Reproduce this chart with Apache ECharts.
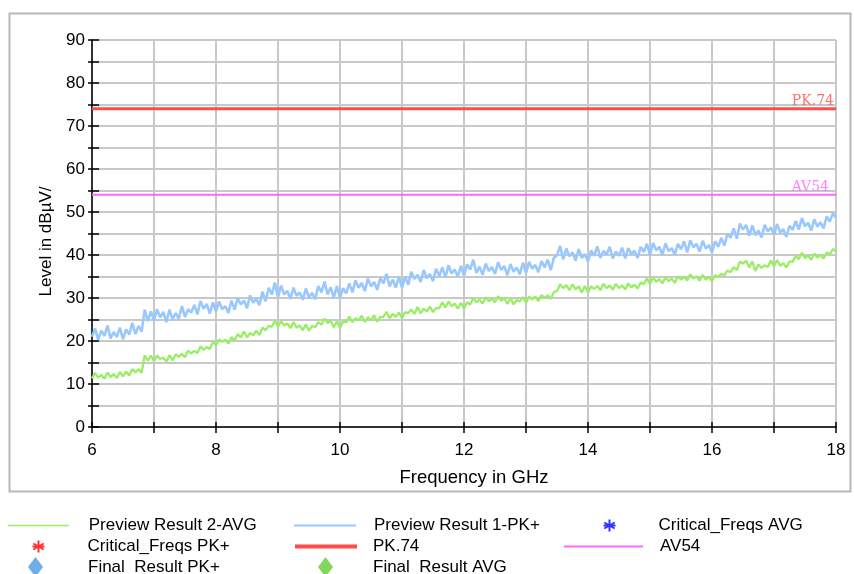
<!DOCTYPE html>
<html>
<head>
<meta charset="utf-8">
<script src="https://cdn.jsdelivr.net/npm/echarts@6/dist/echarts.min.js"></script>
<style>
html,body{margin:0;padding:0;background:#fff;}
#chart{width:854px;height:574px;}
</style>
</head>
<body>
<div id="chart"></div>
<script>
// Frequency grid (GHz): 6.00 .. 18.00 step 0.05
var freqStart = 6, freqStep = 0.05;

// Preview Result 1-PK+ (dBµV)
var pkValues = [
 21.0,22.9,20.3,22.4,21.2,23.6,20.6,22.1,20.9,23.1,20.4,22.7,21.5,24.2,21.6,23.5,22.2,27.3,24.6,26.9,
 24.8,27.4,25.5,26.8,24.4,27.3,25.0,26.5,25.1,28.1,25.6,27.4,26.6,28.4,26.2,29.3,27.5,28.6,26.4,29.0,
 26.9,29.2,27.4,28.1,26.5,29.4,27.3,30.0,28.5,29.4,27.6,30.6,28.9,29.8,28.3,31.5,29.2,32.4,30.8,33.6,
 30.2,32.9,30.8,31.7,29.8,32.4,30.5,31.3,29.6,32.2,30.1,31.2,29.7,32.8,31.3,33.8,30.8,32.5,30.1,32.8,
 30.0,32.3,31.1,33.4,31.3,34.1,32.4,33.5,31.6,34.5,32.7,33.7,31.9,34.7,33.4,35.6,32.7,34.3,32.4,34.9,
 32.4,35.0,33.1,36.1,34.4,35.4,33.7,36.5,34.6,35.6,33.9,36.8,35.1,37.1,34.8,37.6,35.7,36.6,35.0,37.5,
 35.2,37.8,36.6,38.9,35.8,37.3,35.4,38.0,36.3,37.2,35.6,38.3,36.5,37.4,35.3,37.9,36.1,37.1,35.5,38.2,
 35.8,38.4,36.8,37.7,36.0,38.6,37.1,38.9,36.5,39.4,39.9,42.1,39.0,41.5,39.7,40.6,38.7,41.4,39.3,40.2,
 38.5,41.1,39.8,42.0,39.3,41.0,40.1,41.9,39.2,40.8,39.8,41.7,39.2,41.6,40.2,41.0,39.3,41.9,40.7,42.6,
 40.0,42.8,41.1,41.9,40.0,42.7,40.9,41.6,40.1,42.6,41.3,43.2,40.6,43.4,41.8,42.6,40.8,43.3,41.5,42.3,
 40.6,43.2,41.9,44.0,42.2,45.0,44.0,46.2,43.8,47.3,45.9,47.0,44.5,46.9,44.6,45.7,44.1,47.0,45.5,46.4,
 44.7,47.2,45.2,46.0,44.2,46.8,45.8,47.9,45.9,48.6,46.7,47.5,45.7,48.3,46.6,47.6,46.2,49.0,47.8,49.7,48.6
];

// Preview Result 2-AVG (dBµV)
var avgValues = [
 11.3,12.6,11.5,12.1,11.2,12.7,11.6,12.3,11.4,12.8,11.8,12.9,12.0,13.5,12.7,13.4,12.6,16.7,15.4,16.6,
 15.3,16.6,15.8,16.1,15.2,16.7,15.5,16.9,16.3,17.0,16.2,17.8,17.1,17.7,17.2,18.8,17.9,18.6,18.1,19.8,
 19.0,20.4,19.8,20.3,19.4,20.9,20.1,21.6,20.8,22.2,20.8,21.9,21.3,22.4,21.4,23.1,22.5,23.5,23.3,24.7,
 23.3,24.6,23.6,24.1,23.0,24.4,23.1,23.6,22.5,23.9,22.4,23.5,23.2,24.4,23.8,25.2,24.2,24.7,23.2,24.6,
 23.1,24.5,24.3,25.7,24.4,25.3,24.8,25.9,24.4,25.5,24.8,26.0,24.5,25.6,25.6,26.8,25.3,26.3,25.6,26.6,
 25.3,26.7,26.5,27.3,26.3,27.9,26.4,27.5,26.9,28.0,26.7,27.7,27.6,29.0,27.8,29.2,28.1,28.7,27.5,28.9,
 27.5,29.0,28.5,30.0,29.0,29.6,28.7,30.2,29.2,29.9,29.0,30.4,29.4,30.0,28.6,30.0,28.5,29.5,29.2,30.2,
 28.9,30.3,29.7,30.3,29.3,30.7,30.0,30.6,29.8,31.4,31.6,33.2,32.3,33.0,31.8,33.2,32.0,32.7,31.3,32.8,
 31.3,32.7,32.1,32.8,31.8,33.3,32.3,32.9,31.9,33.3,32.3,32.9,32.0,33.4,32.5,33.1,32.2,33.6,33.2,34.5,
 33.3,34.7,33.8,34.4,33.4,34.8,33.9,34.5,33.5,35.0,34.3,34.9,34.1,35.5,34.5,35.1,34.0,35.4,34.3,34.9,
 33.9,35.3,34.9,35.6,35.3,36.4,36.0,37.2,36.5,38.5,38.0,38.7,37.1,38.5,36.3,37.8,37.0,37.6,37.2,38.7,
 37.4,38.8,37.5,38.1,37.1,38.5,38.4,39.8,39.0,40.5,39.3,39.9,38.9,40.3,39.4,40.0,39.2,40.6,40.2,41.4,40.8
];

// Limit lines
var pkLimit = 74;
var avLimit = 54;

// Axis setup values
var xMin = 6, xMax = 18, xTickStep = 1, xLabelStep = 2;
var yMin = 0, yMax = 90, yTickStep = 5, yLabelStep = 10;

// Series names
var names = {
  avg: 'Preview Result 2-AVG',
  pk: 'Preview Result 1-PK+',
  critAvg: 'Critical_Freqs AVG',
  critPk: 'Critical_Freqs PK+',
  pkLim: 'PK.74',
  avLim: 'AV54',
  finPk: 'Final  Result PK+',
  finAvg: 'Final  Result AVG'
};

var colors = {
  avg: '#99ee66', pk: '#99c8ff', pkLim: '#ff4b4b', avLim: '#ff66ff',
  critPk: '#ff0000', critAvg: '#0000ff', finPk: '#4a9ae0', finAvg: '#66cc33'
};

function pairs(vals) {
  return vals.map(function (v, i) { return [+(freqStart + i * freqStep).toFixed(2), v]; });
}

var asterisk = 'path://M6,0L6,12M0.8,3L11.2,9M0.8,9L11.2,3M0,6L12,6';

var chart = echarts.init(document.getElementById('chart'), null, {renderer: 'canvas'});

var legendFont = {fontFamily: 'Liberation Sans, Arial, sans-serif', fontSize: 17, color: '#000'};
function leg(name, left, top, w, h, pad, extra) {
  var item = Object.assign({name: name}, extra || {});
  return {
    data: [item], left: left, top: top, itemWidth: w, itemHeight: h, padding: 0,
    selectedMode: false,
    textStyle: Object.assign({padding: [0, 0, 0, pad]}, legendFont)
  };
}
function lineIcon(color, width) {
  return {itemStyle: {opacity: 0}, lineStyle: {color: color, width: width}};
}

var option = {
  backgroundColor: '#fff',
  animation: false,
  graphic: [{
    type: 'rect', left: 7, top: 11, shape: {width: 841, height: 478},
    style: {fill: 'none', stroke: '#b8b8b8', lineWidth: 2}, silent: true, z: -1
  }],
  grid: {left: 92, right: 18, top: 40, bottom: 147},
  legend: [
    leg(names.avg, 7, 517, 61, 14, 15, lineIcon(colors.avg, 1.5)),
    leg(names.critPk, 30, 538, 12, 14, 38),
    leg(names.finPk, 28, 557, 15, 20, 40),
    leg(names.pk, 293, 517, 62, 14, 13, lineIcon(colors.pk, 2)),
    leg(names.pkLim, 293, 538, 62, 14, 11, lineIcon(colors.pkLim, 4)),
    leg(names.finAvg, 318, 557, 15, 20, 35),
    leg(names.critAvg, 601, 517, 12, 14, 38),
    leg(names.avLim, 563, 538, 79, 14, 12, lineIcon(colors.avLim, 2))
  ],
  xAxis: [{
    type: 'value', min: xMin, max: xMax, interval: xTickStep,
    name: 'Frequency in GHz', nameLocation: 'middle', nameGap: 41,
    nameTextStyle: {fontFamily: 'Liberation Sans, Arial, sans-serif', fontSize: 18.5, color: '#000', padding: [0, 0, 0, 20]},
    axisLine: {show: true, onZero: false, lineStyle: {color: '#000', width: 1.5}},
    axisTick: {show: true, inside: false, length: 6, lineStyle: {color: '#000', width: 1.5}},
    axisLabel: {
      color: '#000', fontFamily: 'Liberation Sans, Arial, sans-serif', fontSize: 17, margin: 15,
      formatter: function (v) { return (v % xLabelStep === 0) ? String(v) : ''; }
    },
    splitLine: {show: true, lineStyle: {color: '#c8c8c8', width: 2}}
  }, {
    type: 'value', min: xMin, max: xMax, interval: xTickStep, position: 'bottom',
    axisLine: {show: false, onZero: false},
    axisTick: {show: true, inside: true, length: 5, lineStyle: {color: '#000', width: 1.5}},
    axisLabel: {show: false}, splitLine: {show: false}
  }],
  yAxis: [{
    type: 'value', min: yMin, max: yMax, interval: yTickStep,
    name: 'Level in dBµV/', nameLocation: 'middle', nameGap: 36, nameRotate: 90,
    nameTextStyle: {fontFamily: 'Liberation Sans, Arial, sans-serif', fontSize: 17, color: '#000', padding: [0, 16, 0, 0]},
    axisLine: {show: true, onZero: false, lineStyle: {color: '#000', width: 1.5}},
    axisTick: {show: true, inside: false, length: 4, lineStyle: {color: '#000', width: 1.5}},
    axisLabel: {
      color: '#000', fontFamily: 'Liberation Sans, Arial, sans-serif', fontSize: 17, margin: 7,
      formatter: function (v) { return (v % yLabelStep === 0) ? String(v) : ''; }
    },
    splitLine: {show: true, lineStyle: {color: '#c8c8c8', width: 2}}
  }, {
    type: 'value', min: yMin, max: yMax, interval: yTickStep, position: 'left',
    axisLine: {show: false, onZero: false},
    axisTick: {show: true, inside: true, length: 7, lineStyle: {color: '#000', width: 1.5}},
    axisLabel: {show: false}, splitLine: {show: false}
  }],
  series: [
    {
      name: names.avg, type: 'line', symbol: 'none', data: pairs(avgValues),
      lineStyle: {color: colors.avg, width: 2.3}, itemStyle: {color: colors.avg}, z: 3
    },
    {
      name: names.pk, type: 'line', symbol: 'none', data: pairs(pkValues),
      lineStyle: {color: colors.pk, width: 2.6}, itemStyle: {color: colors.pk}, z: 3
    },
    {
      name: names.critAvg, type: 'scatter', data: [], symbol: asterisk,
      itemStyle: {color: 'none', borderColor: colors.critAvg, borderWidth: 1.5}
    },
    {
      name: names.critPk, type: 'scatter', data: [], symbol: asterisk,
      itemStyle: {color: 'none', borderColor: colors.critPk, borderWidth: 1.5}
    },
    {
      name: names.pkLim, type: 'line', symbol: 'none', data: [[xMin, pkLimit], [xMax, pkLimit]],
      lineStyle: {color: colors.pkLim, width: 3}, itemStyle: {color: colors.pkLim}, z: 4,
      markLine: {
        silent: true, symbol: ['none', 'none'], lineStyle: {width: 0, color: colors.pkLim},
        label: {show: true, position: 'insideEndTop', formatter: 'PK.74', distance: [2, 0],
          color: '#ff7070', fontFamily: 'DejaVu Serif, serif', fontSize: 14},
        data: [{yAxis: pkLimit}]
      }
    },
    {
      name: names.avLim, type: 'line', symbol: 'none', data: [[xMin, avLimit], [xMax, avLimit]],
      lineStyle: {color: colors.avLim, width: 2}, itemStyle: {color: colors.avLim}, z: 4,
      markLine: {
        silent: true, symbol: ['none', 'none'], lineStyle: {width: 0, color: colors.avLim},
        label: {show: true, position: 'insideEndTop', formatter: 'AV54', distance: [7, 0],
          color: '#ff80ff', fontFamily: 'DejaVu Serif, serif', fontSize: 14},
        data: [{yAxis: avLimit}]
      }
    },
    {
      name: names.finPk, type: 'scatter', data: [], symbol: 'diamond',
      itemStyle: {color: colors.finPk}
    },
    {
      name: names.finAvg, type: 'scatter', data: [], symbol: 'diamond',
      itemStyle: {color: colors.finAvg}
    }
  ]
};
chart.setOption(option);
</script>
</body>
</html>
